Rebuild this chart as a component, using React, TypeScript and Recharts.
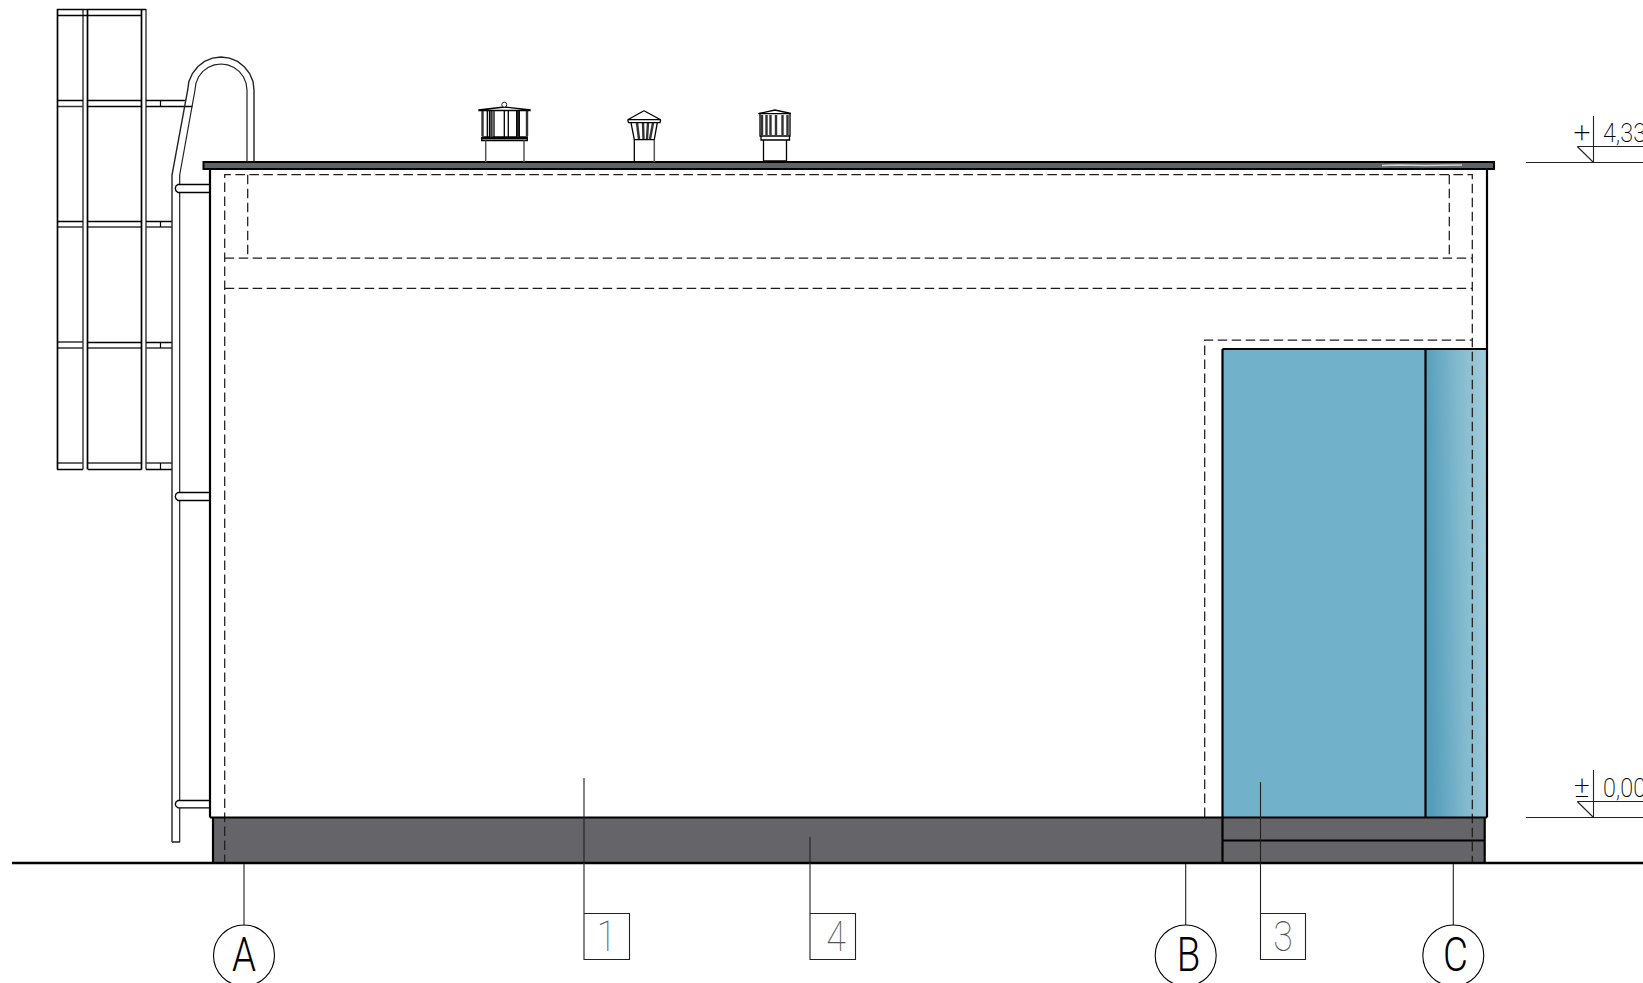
import React from 'react';
import {
  ComposedChart,
  Line,
  ReferenceArea,
  ReferenceDot,
  XAxis,
  YAxis,
} from 'recharts';

type Path = number[][];

// all values are in drawing units, y grows downwards
const frameStrong: Path[] = [
  [[57.5, 9], [57.5, 469.5]],
  [[87.5, 9], [87.5, 469.5]],
  [[141.5, 9], [141.5, 469.5]],
  [[57, 9.5], [146, 9.5]],
  [[57, 15.5], [141.5, 15.5]],
  [[57, 100.5], [83, 100.5]],
  [[88, 100.5], [141.5, 100.5]],
  [[88, 106.5], [141.5, 106.5]],
  [[146, 100.5], [186, 100.5]],
  [[146, 106.5], [192.5, 106.5]],
  [[57, 221.5], [83, 221.5]],
  [[88, 221.5], [141.5, 221.5]],
  [[146, 221.5], [172, 221.5]],
  [[88, 342.5], [141.5, 342.5]],
  [[146, 342.5], [172, 342.5]],
  [[57, 469.5], [83, 469.5]],
  [[88, 469.5], [141.5, 469.5]],
  [[146, 469.5], [172, 469.5]],
];
const frameSoft: Path[] = [
  [[83, 9], [83, 469.5]],
  [[146, 9], [146, 469.5]],
  [[57, 106.5], [83, 106.5]],
  [[57, 227], [83, 227]],
  [[88, 227], [141.5, 227]],
  [[146, 227], [172, 227]],
  [[57, 342], [83, 342]],
  [[57, 348], [83, 348]],
  [[88, 348], [141.5, 348]],
  [[146, 348], [172, 348]],
  [[57, 463], [83, 463]],
  [[88, 463], [141.5, 463]],
  [[146, 463], [172, 463]],
];
const bracketTicks: Path[] = [
  [[160.5, 100], [160.5, 106]],
  [[160.5, 221], [160.5, 227]],
  [[160.5, 342], [160.5, 348]],
  [[160.5, 463], [160.5, 469]],
];

const ladderOuter: Path[] = [
  [
    [172, 842], [172, 175], [187.7, 90], [188.9, 81.5], [192.4, 73.5], [197.7, 66.7],
    [204.5, 61.4], [212.5, 58.1], [221, 57], [229.5, 58.1], [237.5, 61.4], [244.3, 66.7],
    [249.6, 73.5], [253, 81.5], [254, 90], [254, 162],
  ],
  [[172, 842], [180, 842]],
];
const ladderInner: Path[] = [
  [[179.7, 842], [179.7, 808]],
  [[179.7, 800], [179.7, 500.5]],
  [[179.7, 492], [179.7, 192.5]],
  [
    [179.7, 184], [179.7, 175], [195, 90], [195.9, 83.3], [198.5, 77], [202.6, 71.6],
    [208, 67.5], [214.3, 64.9], [221, 64], [227.7, 64.9], [234, 67.5], [239.4, 71.6],
    [243.5, 77], [246.1, 83.3], [247, 90], [247, 162],
  ],
];
const ladderRungs: Path[] = [
  [[210, 184.5], [178, 184.5], [176, 186], [175.3, 188.4], [176, 190.8], [178, 192.5], [210, 192.5]],
  [[210, 492.5], [178, 492.5], [176, 494], [175.3, 496.4], [176, 498.8], [178, 500.5], [210, 500.5]],
  [[210, 800.5], [178, 800.5], [176, 802], [175.3, 804.2], [176, 806.2], [178, 807.8], [210, 807.8]],
];

const ventThin: Path[] = [
  // first vent
  [[478.3, 110.5], [530.7, 110.5]],
  [[478.3, 110], [504.3, 107], [530.7, 110]],
  [[487.3, 110], [487.3, 137]],
  [[489.5, 110], [489.5, 137]],
  [[494, 110], [494, 137]],
  [[504.3, 110], [504.3, 137]],
  [[508.3, 110], [508.3, 137]],
  [[516.7, 110], [516.7, 137]],
  [[519.3, 110], [519.3, 137]],
  [[481.7, 137], [527.3, 137], [527.3, 140.5], [481.7, 140.5], [481.7, 137]],
  [[481.7, 138.5], [527.3, 138.5]],
  // second vent
  [[644, 110.7], [627.7, 119.7], [660.7, 119.7], [644, 110.7]],
  [[627.7, 119.7], [628.5, 122.7], [660, 122.7], [660.7, 119.7]],
  [[631, 122.7], [634.3, 139.7], [654.3, 139.7], [657.3, 122.7]],
  [[634.3, 139.7], [634.3, 162]],
  // third vent
  [[758.3, 113.7], [791, 113.7]],
  [[759, 113.5], [775, 110], [791, 113.5]],
  [[760, 114], [760, 136], [790, 136], [790, 114]],
  [[761, 136], [761, 140], [789.5, 140], [789.5, 136]],
  [[763.5, 140], [763.5, 161.5], [786.5, 161.5], [786.5, 140]],
  [[763.5, 161], [786.5, 161]],
];
const ventSoft: Path[] = [
  [[485.7, 140.5], [485.7, 162]],
  [[524, 140.5], [524, 162]],
  [[654.3, 139.7], [654.3, 162]],
];
const ventSlats: Path[] = [
  [[482.5, 111], [482.5, 136]],
  [[527, 111], [527, 136]],
  [[491.5, 111], [491.5, 136]],
  [[518, 111], [518, 136]],
  [[637, 123], [639, 139]],
  [[643, 123], [643.5, 139]],
  [[648, 123], [647, 139]],
  [[653, 123], [650, 139]],
  [[762, 115], [762, 135]],
  [[766.5, 115], [766.5, 135]],
  [[770.5, 115], [770.5, 135]],
  [[776, 115], [776, 135]],
  [[782.5, 115], [782.5, 135]],
  [[787.5, 115], [787.5, 135]],
];

const hiddenEdges: Path[] = [
  [[224.7, 864], [224.7, 174.7], [1472.3, 174.7], [1472.3, 863]],
  [[224.7, 258], [1472.3, 258]],
  [[224.7, 288.3], [1472.3, 288.3]],
  [[247.7, 174.7], [247.7, 258]],
  [[1449.3, 174.7], [1449.3, 258]],
  [[1204.7, 817], [1204.7, 340], [1472.3, 340]],
];

const wallLines: Path[] = [
  [[210, 817.5], [210, 169], [1487, 169], [1487, 817.5]],
  [[210, 817.5], [1487, 817.5]],
  [[1222.5, 349], [1487, 349]],
  [[1222.5, 349], [1222.5, 863]],
  [[1425.5, 349], [1425.5, 817.5]],
  [[213, 817.5], [213, 863]],
  [[1484.7, 817.5], [1484.7, 863]],
  [[1222.5, 840.5], [1484.7, 840.5]],
];
const groundLine: Path[] = [[[12, 863], [1643, 863]]];
const roofGlint: Path[] = [[[1382, 165.5], [1398, 165], [1425, 165.5], [1462, 165]]];

const leaders: Path[] = [
  [[244, 864], [244, 925]],
  [[1185.7, 864], [1185.7, 925]],
  [[1453.3, 864], [1453.3, 925]],
  [[584, 778], [584, 959.5], [629.5, 959.5], [629.5, 913.5], [584, 913.5]],
  [[810, 837], [810, 959.5], [855.5, 959.5], [855.5, 913.5], [810, 913.5]],
  [[1260.5, 782], [1260.5, 959.5], [1305.5, 959.5], [1305.5, 913.5], [1260.5, 913.5]],
];
const levelLines: Path[] = [
  [[1526, 162.5], [1643, 162.5]],
  [[1577.3, 146.5], [1643, 146.5]],
  [[1577.3, 146.5], [1593.5, 162.5]],
  [[1593.5, 116], [1593.5, 162.5]],
  [[1526, 817.5], [1643, 817.5]],
  [[1577.3, 801.5], [1643, 801.5]],
  [[1577.3, 801.5], [1593.5, 817.5]],
  [[1593.5, 770], [1593.5, 817.5]],
];

const roofBox = [203.5, 1494, 162, 169];
const plinthBox = [213, 1484.7, 817.5, 863];
const glassBox = [1222.5, 1425.5, 349, 817.5];
const returnBox = [1425.5, 1487, 349, 817.5];

const gridBubbles = [
  { label: 'A', x: 244, y: 955.5 },
  { label: 'B', x: 1185.7, y: 955.5 },
  { label: 'C', x: 1453.3, y: 955.5 },
];
const gridLetters = [
  { label: 'A', x: 244, y: 954.5 },
  { label: 'B', x: 1188.5, y: 954.5 },
  { label: 'C', x: 1455.5, y: 954.5 },
];
const materialTags = [
  { label: '1', x: 606.5, y: 936.5 },
  { label: '4', x: 836, y: 936.5 },
  { label: '3', x: 1283, y: 936.5 },
];
const levelSigns = [
  { label: '+', x: 1582, y: 142 },
  { label: '±', x: 1582, y: 797 },
];
const levelValues = [
  { label: '4,33', x: 1603, y: 142 },
  { label: '0,00', x: 1603, y: 797 },
];
const ventKnob = { x: 504.3, y: 104.7 };

const toPoints = (paths: Path[]) =>
  paths.flatMap((path) => [
    ...path.map(([x, y]) => ({ x, y })),
    { x: path[path.length - 1][0], y: null },
  ]);

const strokes = (
  id: string,
  paths: Path[],
  stroke: string,
  strokeWidth: number,
  strokeDasharray?: string,
) => (
  <Line
    key={id}
    data={toPoints(paths)}
    dataKey="y"
    dot={false}
    activeDot={false}
    isAnimationActive={false}
    legendType="none"
    stroke={stroke}
    strokeDasharray={strokeDasharray}
    strokeLinecap="butt"
    strokeWidth={strokeWidth}
    type="linear"
  />
);

const box = (id: string, [x1, x2, y1, y2]: number[], fill: string, stroke?: string) => (
  <ReferenceArea
    key={id}
    fill={fill}
    fillOpacity={1}
    ifOverflow="visible"
    stroke={stroke}
    strokeWidth={stroke ? 2 : 0}
    x1={x1}
    x2={x2}
    y1={y1}
    y2={y2}
  />
);

const cadText = (
  mark: { label: string; x: number; y: number },
  opts: {
    size: number;
    weight: number;
    fill: string;
    squeeze: number;
    anchor: 'start' | 'middle';
    middle?: boolean;
  },
) => (
  <ReferenceDot
    key={mark.label}
    ifOverflow="visible"
    r={0}
    shape={(props: { cx?: number; cy?: number }) => (
      <text
        dominantBaseline={opts.middle ? 'central' : undefined}
        fill={opts.fill}
        fontFamily="Roboto"
        fontSize={opts.size}
        fontWeight={opts.weight}
        textAnchor={opts.anchor}
        transform={`translate(${props.cx},${props.cy}) scale(${opts.squeeze},1)`}>
        {mark.label}
      </text>
    )}
    x={mark.x}
    y={mark.y}
  />
);

const App = () => {
  return (
    <div
      style={{
        position: 'absolute',
        left: 0,
        top: 0,
        width: 1643,
        height: 983,
        overflow: 'hidden',
        background: '#fff',
      }}>
      <ComposedChart
        height={983}
        margin={{ top: 0, right: 0, bottom: 0, left: 0 }}
        width={1643}>
        <defs>
          <linearGradient id="returnGlass" x1="0" x2="1" y1="0.15" y2="0">
            <stop offset="0%" stopColor="#559ebb" />
            <stop offset="50%" stopColor="#80b8cd" />
            <stop offset="100%" stopColor="#a3cddc" />
          </linearGradient>
        </defs>
        <XAxis hide dataKey="x" domain={[0, 1643]} type="number" />
        <YAxis hide reversed domain={[0, 983]} type="number" />

        {box('plinth', plinthBox, '#656469')}
        {box('glass', glassBox, '#71b1ca')}
        {box('return', returnBox, 'url(#returnGlass)')}
        {box('roof', roofBox, '#5f6367', '#000')}

        {strokes('hidden', hiddenEdges, '#1c1c1c', 1.25, '9.5 4.5')}
        {strokes('frameSoft', frameSoft, '#333', 1.4)}
        {strokes('frameStrong', frameStrong, '#000', 1.7)}
        {strokes('ticks', bracketTicks, '#000', 1.2)}
        {strokes('ladderOuter', ladderOuter, '#222', 1.4)}
        {strokes('ladderInner', ladderInner, '#222', 1.2)}
        {strokes('rungs', ladderRungs, '#000', 1.3)}
        {strokes('slats', ventSlats, '#333', 2.4)}
        {strokes('ventThin', ventThin, '#000', 1.3)}
        {strokes('ventSoft', ventSoft, '#555', 1.5)}
        {strokes('walls', wallLines, '#000', 2.2)}
        {strokes('ground', groundLine, '#000', 2.4)}
        {strokes('glint', roofGlint, '#d5d8da', 1.4)}
        {strokes('leaders', leaders, '#222', 1.1)}
        {strokes('levels', levelLines, '#222', 1.1)}

        <ReferenceDot
          fill="#fff"
          ifOverflow="visible"
          r={2.5}
          stroke="#222"
          strokeWidth={1}
          x={ventKnob.x}
          y={ventKnob.y}
        />
        {gridBubbles.map((b) => (
          <ReferenceDot
            key={`ring-${b.label}`}
            fill="none"
            ifOverflow="visible"
            r={30.5}
            stroke="#000"
            strokeWidth={1.1}
            x={b.x}
            y={b.y}
          />
        ))}
        {gridLetters.map((b) =>
          cadText(b, {
            size: 48,
            weight: 300,
            fill: '#000',
            squeeze: 0.8,
            anchor: 'middle',
            middle: true,
          }),
        )}
        {materialTags.map((t) =>
          cadText(t, {
            size: 42,
            weight: 100,
            fill: '#555',
            squeeze: 0.85,
            anchor: 'middle',
            middle: true,
          }),
        )}
        {levelSigns.map((s) =>
          cadText(s, { size: 30, weight: 200, fill: '#000', squeeze: 1, anchor: 'middle' }),
        )}
        {levelValues.map((v) =>
          cadText(v, { size: 26, weight: 200, fill: '#000', squeeze: 0.9, anchor: 'start' }),
        )}
      </ComposedChart>
    </div>
  );
};

export default App;
